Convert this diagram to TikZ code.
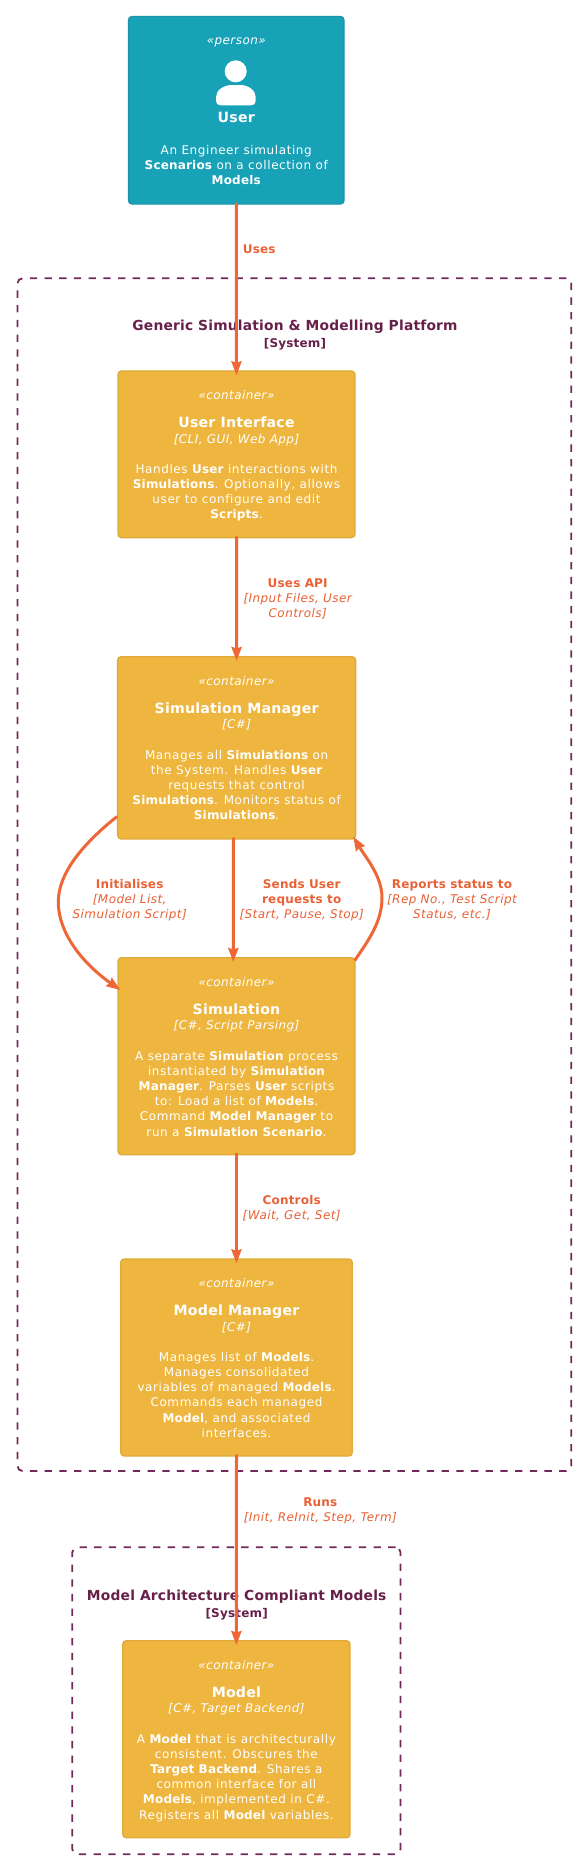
\documentclass[tikz,border=0pt]{standalone}
\usepackage{fontspec}
\setmainfont{DejaVu Sans}[LetterSpace=5,Ligatures=NoCommon,BoldFeatures={LetterSpace=1.5},ItalicFeatures={LetterSpace=3.6}]
\usetikzlibrary{arrows.meta}
\definecolor{teal1}{HTML}{18A2B8}
\definecolor{teal2}{HTML}{1A95A8}
\definecolor{gold1}{HTML}{EEB63F}
\definecolor{gold2}{HTML}{DFAA3A}
\definecolor{arrowc}{HTML}{EF6637}
\definecolor{labelc}{HTML}{E96135}
\definecolor{titlec}{HTML}{66204A}
\definecolor{dashc}{HTML}{73285A}
\newcommand{\bodyfont}{\fontsize{12}{15.2}\selectfont}
\newcommand{\stereo}[1]{{\itshape #1}}
\newcommand{\ttl}[1]{{\fontsize{14.15}{15.2}\selectfont\bfseries #1}}
\newcommand{\tech}[1]{{\itshape #1}}
\newcommand{\bb}[1]{{\bfseries #1}}
\newcommand{\contentgap}{\\[12.3pt]}
\tikzset{
  x=1pt,y=-1pt,
  boxbase/.style={draw,rounded corners=3.5pt,line width=1.3pt,inner sep=0pt},
  contbox/.style={boxbase,fill=gold1,draw=gold2},
  personbox/.style={boxbase,fill=teal1,draw=teal2},
  boxtext/.style={text=white,align=center,font=\bodyfont,inner sep=0pt,anchor=north},
  boundary/.style={draw=dashc,line width=1.8pt,dash pattern=on 7.3pt off 7.4pt,rounded corners=5pt,inner sep=0pt},
  systitle/.style={text=titlec,align=center,inner sep=0pt,font=\fontsize{13.8}{16.5}\selectfont\bfseries},
  rel/.style={draw=arrowc,line width=3pt,-{Stealth[length=14pt,width=10pt,inset=1.5pt]},shorten >=-5pt,shorten <=-2pt},
  rellabel/.style={text=labelc,align=center,inner sep=0pt,font=\bodyfont},
}
\begin{document}
\begin{tikzpicture}
\useasboundingbox[fill=white] (0,0) rectangle (582,1864);
% boundaries
\node[boundary,minimum width=553.8pt,minimum height=1192.7pt] (sysa) at (294.4,874.65) {};
\node[boundary,minimum width=328.2pt,minimum height=307pt] (sysb) at (236.4,1700.8) {};
\node[systitle] (sysat) at (295,334.8) {Generic Simulation \& Modelling Platform\\{\fontsize{12}{15}\selectfont [System]}};
\node[systitle] (sysbt) at (236.7,1604.8) {Model Architecture Compliant Models\\{\fontsize{12}{15}\selectfont [System]}};
% boxes
\node[personbox,minimum width=215.5pt,minimum height=187.5pt] (user) at (236.25,110.25) {};
\node[contbox,minimum width=237pt,minimum height=166.7pt] (ui) at (236.5,454.3) {};
\node[contbox,minimum width=238pt,minimum height=182.3pt] (mgr) at (236.6,747.8) {};
\node[contbox,minimum width=237pt,minimum height=197pt] (sim) at (236.5,1056.2) {};
\node[contbox,minimum width=231.6pt,minimum height=197pt] (mm) at (236.5,1357.5) {};
\node[contbox,minimum width=227.3pt,minimum height=197pt] (model) at (236.4,1739.2) {};
\node[boxtext] (usert) at ([yshift=-22.2pt]user.north) {\stereo{«person»}\\[62.7pt]\ttl{User}\\[16pt]An Engineer simulating\\\bb{Scenarios} on a collection of\\\bb{Models}};
\node[boxtext] (uit) at ([yshift=-20.3pt]ui.north) {\stereo{«container»}\contentgap\ttl{User Interface}\\[0.6pt]\tech{[CLI, GUI, Web App]}\\[14.9pt]Handles \bb{User} interactions with\\\bb{Simulations}. Optionally, allows\\user to configure and edit\\\bb{Scripts}.};
\node[boxtext] (mgrt) at ([yshift=-20.3pt]mgr.north) {\stereo{«container»}\contentgap\ttl{Simulation Manager}\\[0.6pt]\tech{[C\#]}\\[14.9pt]Manages all \bb{Simulations} on\\the System. Handles \bb{User}\\requests that control\\\bb{Simulations}. Monitors status of\\\bb{Simulations}.};
\node[boxtext] (simt) at ([yshift=-20.3pt]sim.north) {\stereo{«container»}\contentgap\ttl{Simulation}\\[0.6pt]\tech{[C\#, Script Parsing]}\\[14.9pt]A separate \bb{Simulation} process\\instantiated by \bb{Simulation}\\\bb{Manager}. Parses \bb{User} scripts\\to: Load a list of \bb{Models}.\\Command \bb{Model Manager} to\\run a \bb{Simulation Scenario}.};
\node[boxtext] (mmt) at ([yshift=-20.3pt]mm.north) {\stereo{«container»}\contentgap\ttl{Model Manager}\\[0.6pt]\tech{[C\#]}\\[14.9pt]Manages list of \bb{Models}.\\Manages consolidated\\variables of managed \bb{Models}.\\Commands each managed\\\bb{Model}, and associated\\interfaces.};
\node[boxtext] (modelt) at ([yshift=-20.3pt]model.north) {\stereo{«container»}\contentgap\ttl{Model}\\[0.6pt]\tech{[C\#, Target Backend]}\\[14.9pt]A \bb{Model} that is architecturally\\consistent. Obscures the\\\bb{Target Backend}. Shares a\\common interface for all\\\bb{Models}, implemented in C\#.\\Registers all \bb{Model} variables.};
% person icon
\fill[white] (235.7,71.3) circle (11);
\fill[white] (216,101) -- (216,97) .. controls (216,90) and (224,85) .. (232,85) -- (240,85) .. controls (248,85) and (255.7,90) .. (255.7,97) -- (255.7,101) .. controls (255.7,104) and (253.5,105.3) .. (251,105.3) -- (221,105.3) .. controls (218,105.3) and (216,104) .. (216,101) -- cycle;
% connectors
\draw[rel] (user.south) -- (ui.north);
\draw[rel] (ui.south) -- (mgr.north);
\draw[rel] ([xshift=-3.2pt]mgr.south) -- ([xshift=-3.2pt]sim.north);
\draw[rel] (sim.south) -- (mm.north);
\draw[rel] (mm.south) -- (model.north);
\coordinate (initA) at ([yshift=23pt]mgr.south west);
\coordinate (initB) at ([xshift=3pt,yshift=-33pt]sim.north west);
\coordinate (repA) at ([xshift=-1pt,yshift=-3.5pt]sim.north east);
\coordinate (repB) at ([xshift=-3pt,yshift=3pt]mgr.south east);
\draw[rel,shorten >=0pt,shorten <=0pt] (initA) .. controls (80,846) and (58.3,875) .. (58.3,901.7) .. controls (58.3,935) and (85,965) .. (initB);
\draw[rel,shorten >=0pt,shorten <=0pt] (repA) .. controls (368,941) and (382,922) .. (382,898) .. controls (382,876) and (366,858) .. (repB);
% labels
\node[rellabel] (l1) at (259.3,249) {\bb{Uses}};
\node[rellabel] (l2) at (297.7,599.1) {\bb{Uses API}\\\itshape [Input Files, User\\\itshape Controls]};
\node[rellabel] (l3) at (129.7,900.1) {\bb{Initialises}\\\itshape [Model List,\\\itshape Simulation Script]};
\node[rellabel] (l4) at (301.7,900.1) {\bb{Sends User}\\\bb{requests to}\\\itshape [Start, Pause, Stop]};
\node[rellabel] (l5) at (452,900.1) {\bb{Reports status to}\\\itshape [Rep No., Test Script\\\itshape Status, etc.]};
\node[rellabel] (l6) at (291.7,1208.1) {\bb{Controls}\\\itshape [Wait, Get, Set]};
\node[rellabel] (l7) at (320.3,1511.1) {\bb{Runs}\\\itshape [Init, ReInit, Step, Term]};
\end{tikzpicture}
\end{document}
